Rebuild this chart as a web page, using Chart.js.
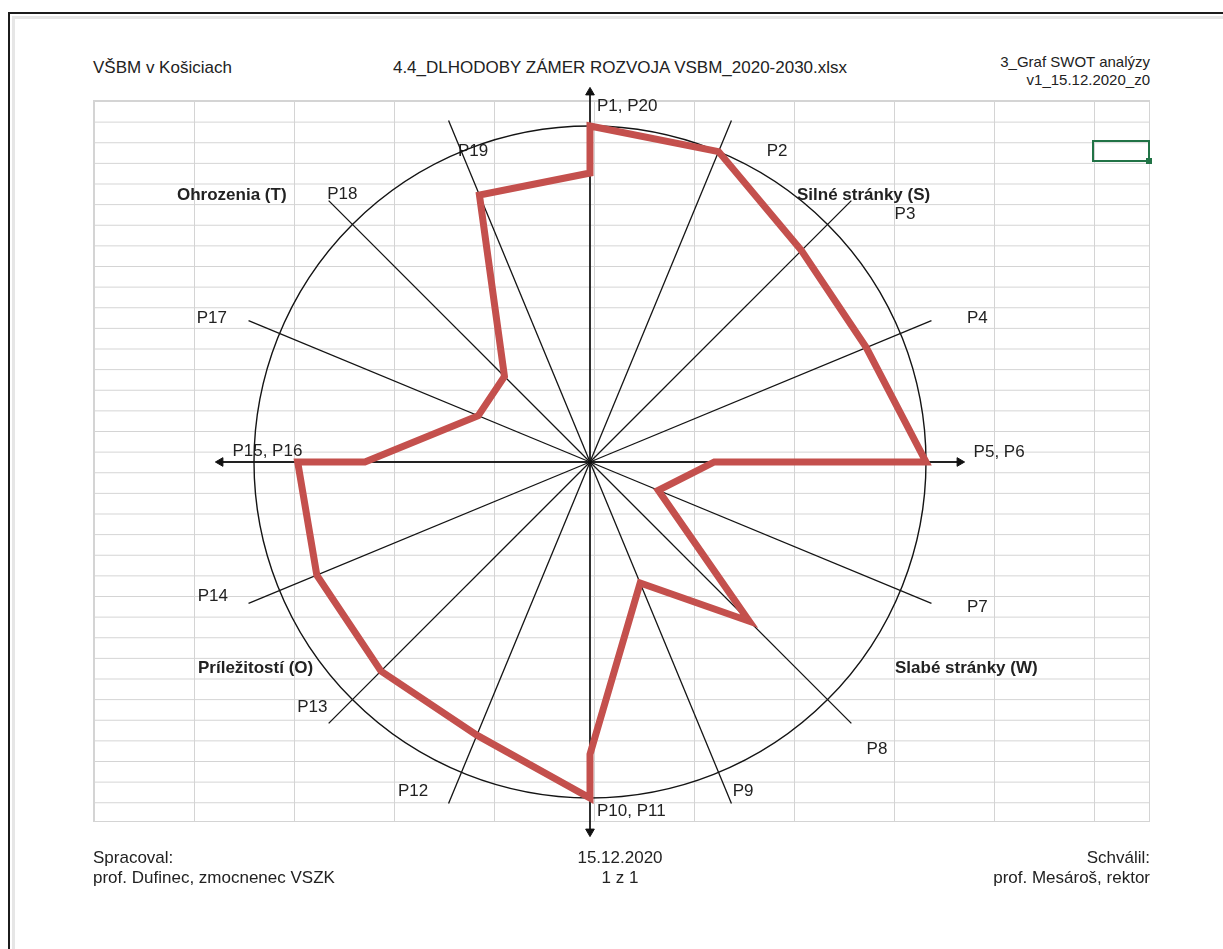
<!DOCTYPE html>
<html lang="sk">
<head>
<meta charset="utf-8">
<title>3_Graf SWOT analýzy</title>
<script src="https://cdn.jsdelivr.net/npm/chart.js@4.4.1/dist/chart.umd.min.js"></script>
<style>
  html, body { margin: 0; padding: 0; background: #fff; }
  body { width: 1223px; height: 949px; position: relative; overflow: hidden;
         font-family: "Liberation Sans", Arial, sans-serif; color: #222; }
  .frame { position: absolute; left: 8px; top: 12px; right: -20px; bottom: -20px;
           border-top: 2px solid #1c1c1c; border-left: 2px solid #1c1c1c; }
  .frame-in { position: absolute; left: 2px; top: 2px; right: 0; bottom: 0;
              border-top: 3px solid #e6e6e6; border-left: 3px solid #e6e6e6; }
  .sheet { position: absolute; left: 93px; top: 100px; width: 1057px; height: 722px;
           box-sizing: border-box; border: 1px solid #d4d4d4;
           background-image: linear-gradient(to right, #d4d4d4 1px, transparent 1px),
                             linear-gradient(to bottom, #d4d4d4 1px, transparent 1px);
           background-size: 100px 100%, 100% 20.63px; }
  .cell { position: absolute; left: 1092px; top: 140px; width: 58px; height: 22px;
          box-sizing: border-box; border: 2px solid #217346; }
  .cell::after { content: ""; position: absolute; right: -4px; bottom: -4px; width: 6px; height: 6px;
                 background: #217346; }
  .t { position: absolute; white-space: nowrap; font-size: 17px; line-height: 20px; }
  .r { text-align: right; right: 73px; }
  .c { transform: translateX(-50%); text-align: center; }
  .q { font-weight: bold; }
  #wrap { position: absolute; left: 0; top: 66px; width: 1180px; height: 792px; }
</style>
</head>
<body>
<div class="frame"><div class="frame-in"></div></div>
<div class="sheet"></div>
<div class="cell"></div>

<div class="t" style="left:93px; top:58px;">VŠBM v Košiciach</div>
<div class="t c" style="left:620px; top:58px;">4.4_DLHODOBY ZÁMER ROZVOJA VSBM_2020-2030.xlsx</div>
<div class="t r" style="top:53px; font-size:15px; line-height:18px;">3_Graf SWOT analýzy<br>v1_15.12.2020_z0</div>

<div id="wrap"><canvas id="swot" width="1180" height="792"></canvas></div>

<div class="t q" style="left:177px; top:185px;">Ohrozenia (T)</div>
<div class="t q" style="left:797px; top:185px;">Silné stránky (S)</div>
<div class="t q" style="left:198px; top:658px;">Príležitostí (O)</div>
<div class="t q" style="left:895px; top:658px;">Slabé stránky (W)</div>

<div class="t" style="left:93px; top:848px;">Spracoval:<br>prof. Dufinec, zmocnenec VSZK</div>
<div class="t c" style="left:620px; top:848px;">15.12.2020<br>1 z 1</div>
<div class="t r" style="top:848px;">Schválil:<br>prof. Mesároš, rektor</div>

<script>
// SWOT criteria, hodnotenie v %
const criteria = ['P1','P2','P3','P4','P5','P6','P7','P8','P9','P10',
                  'P11','P12','P13','P14','P15','P16','P17','P18','P19','P20'];
const score = [100, 100, 89, 89, 100, 37, 22, 67, 39, 87,
               100, 88, 88, 88, 87, 67, 36, 36, 86, 86];
// which of the 16 spokes each criterion sits on (pairs share the main axes)
const spokeOf = [0, 1, 2, 3, 4, 4, 5, 6, 7, 8, 8, 9, 10, 11, 12, 12, 13, 14, 15, 0];
const spokeCount = 16;
const axisEnds = [0, 4, 9, 14];   // criteria lying on the arrowed main axes
const scaleMax = 110;             // spokes run a bit past the 100 % circle

// hand placed label nudges (px), as they sit in the sheet
const labelShift = {
  P2: [33, 47], P3: [39, 28], P4: [30, 10], P7: [30, -9], P8: [11, 12], P9: [-1, -28],
  P12: [-18, -28], P13: [3, -30], P14: [-15, -20], P17: [-16, 10], P18: [33, 8], P19: [42, 47]
};

// spokes instead of equal slices per label
Chart.RadialLinearScale.prototype.getIndexAngle = function(index){
  return spokeOf[index] * 2 * Math.PI / spokeCount;
};

function spokeLabel(i){
  if (spokeOf.indexOf(spokeOf[i]) !== i) return '';
  return criteria.filter((c, j) => spokeOf[j] === spokeOf[i]).join(', ');
}

function placeLabels(scale){
  const items = scale._pointLabelItems || [];
  const r = scale.drawingArea, cx = scale.xCenter, cy = scale.yCenter;
  items.forEach((it, i) => {
    const s = labelShift[criteria[i]];
    if (s) { it.x += s[0]; it.y += s[1]; }
  });
  // axis names sit beside the arrows
  axisEnds.forEach(i => {
    const it = items[i];
    if (!it) return;
    const q = spokeOf[i] / 4;
    it.textAlign = 'left';
    if (q === 0) { it.x = cx + 7; it.y = cy - r + 4; }
    if (q === 1) { it.x = cx + r + 14; it.y = cy - 20; }
    if (q === 2) { it.x = cx + 7; it.y = cy + r - 30; }
    if (q === 3) { it.x = cx - r + 12; it.y = cy - 21; }
  });
}

const ctx = document.getElementById('swot').getContext('2d');
new Chart(ctx, {
  type: 'radar',
  data: {
    labels: criteria,
    datasets: [{
      label: 'SWOT',
      data: score,
      borderColor: '#C4504D',
      borderWidth: 7,
      borderJoinStyle: 'miter',
      fill: false,
      pointRadius: 0,
      tension: 0
    }, {
      label: 'osi',
      data: criteria.map((c, i) => axisEnds.includes(i) ? scaleMax : null),
      showLine: false,
      pointStyle: 'triangle',
      pointRadius: 5,
      pointBackgroundColor: '#111',
      pointBorderColor: '#111',
      pointBorderWidth: 1,
      pointRotation: c => spokeOf[c.dataIndex] * 360 / spokeCount
    }]
  },
  options: {
    responsive: false,
    animation: false,
    plugins: { legend: { display: false }, tooltip: { enabled: false } },
    scales: {
      r: {
        min: 0,
        max: scaleMax,
        afterBuildTicks: s => { s.ticks = [{ value: 0 }, { value: 100 }]; },
        afterFit: placeLabels,
        ticks: { display: false },
        grid: { circular: true, color: '#141414', lineWidth: 1.4 },
        angleLines: { color: '#141414', lineWidth: 1.3 },
        pointLabels: {
          callback: (v, i) => spokeLabel(i),
          color: '#222',
          padding: 6,
          font: { family: '"Liberation Sans", Arial, sans-serif', size: 17 }
        }
      }
    }
  }
});
</script>
</body>
</html>
